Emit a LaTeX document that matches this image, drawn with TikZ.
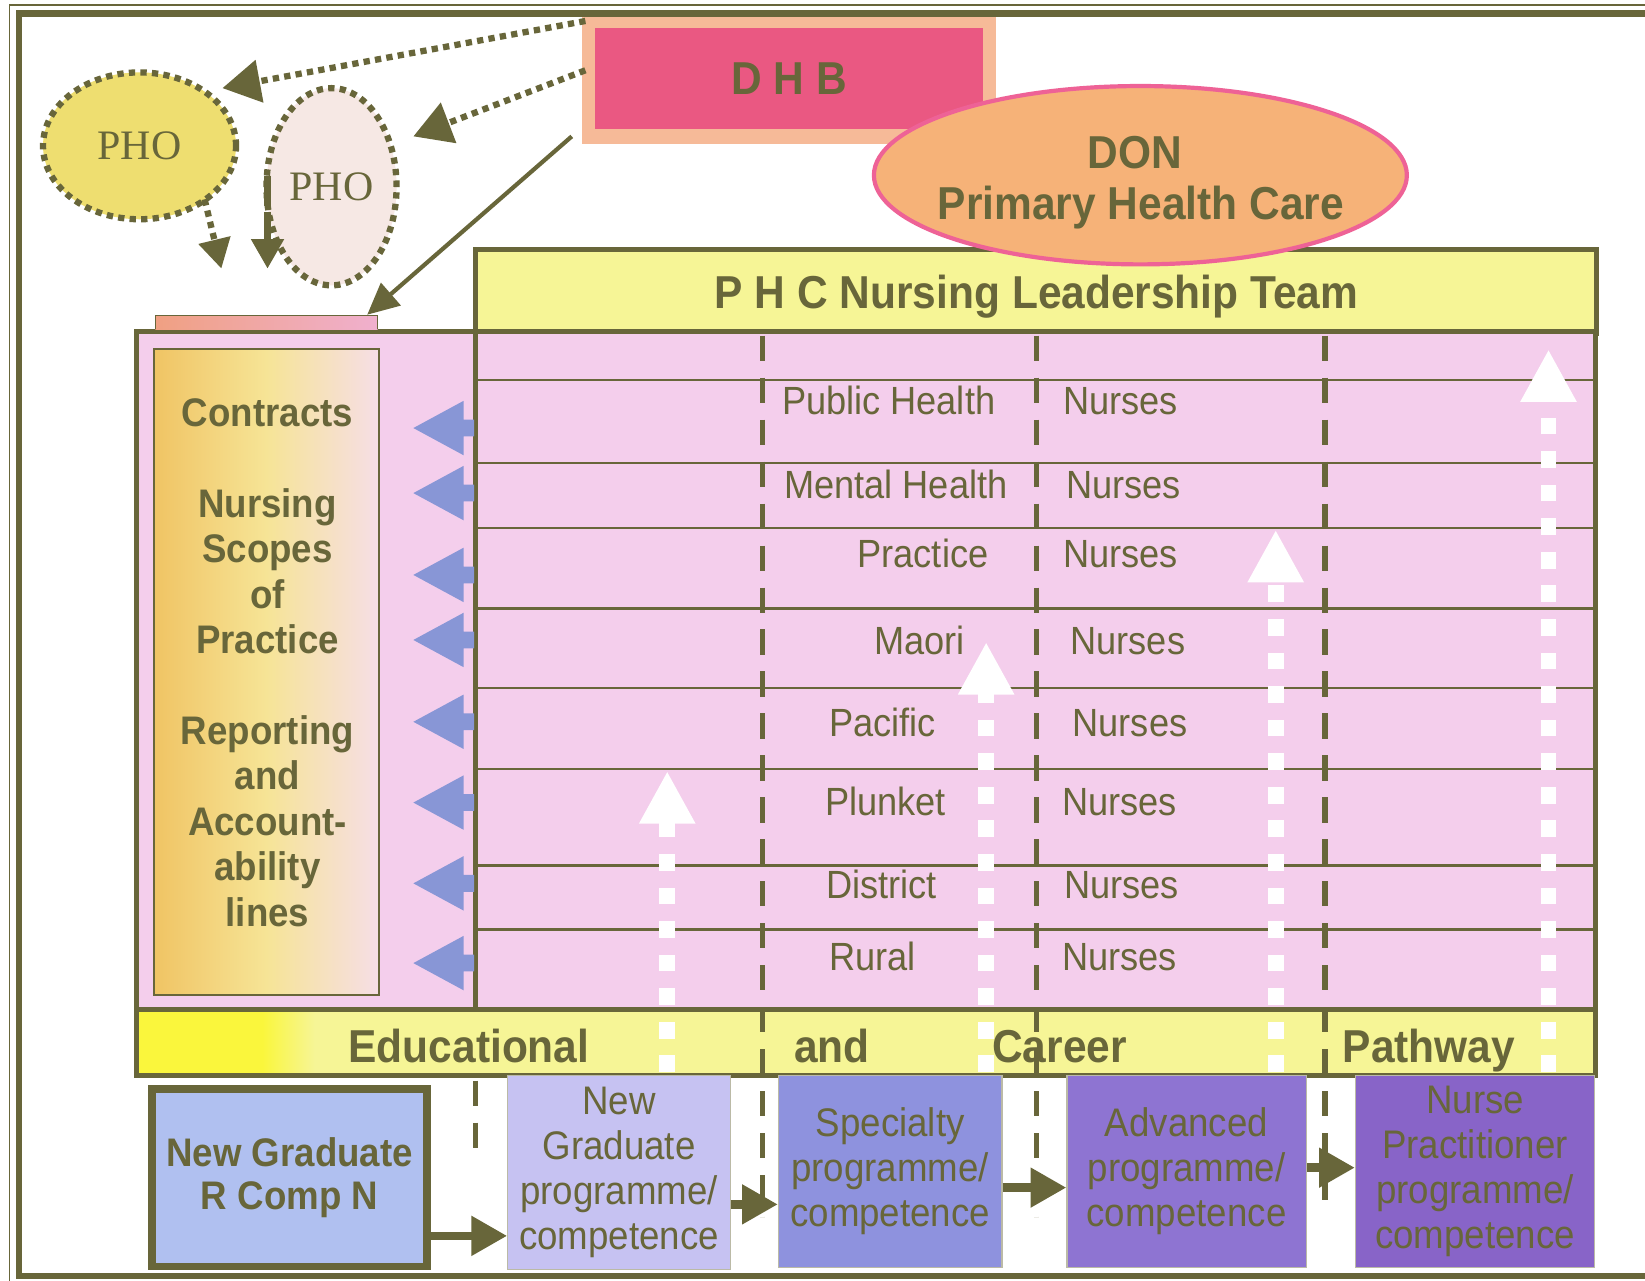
\documentclass[tikz,border=0pt]{standalone}
\usepackage{fontspec}
\setmainfont{Liberation Sans}
\newfontfamily\dgNarrow[FakeStretch=0.92]{Liberation Sans}
\newfontfamily\dgSerif{Liberation Serif}
\usetikzlibrary{arrows.meta,shapes.geometric}

\definecolor{drab}{RGB}{104,102,58}
\definecolor{tablepink}{RGB}{244,206,236}
\definecolor{paleyellow}{RGB}{246,245,150}
\definecolor{brightyellow}{RGB}{250,246,60}
\definecolor{dhbred}{RGB}{234,88,130}
\definecolor{dhbpeach}{RGB}{246,186,152}
\definecolor{donfill}{RGB}{246,178,120}
\definecolor{donedge}{RGB}{238,98,150}
\definecolor{phoyellow}{RGB}{238,222,112}
\definecolor{phopink}{RGB}{246,232,228}
\definecolor{arrowblue}{RGB}{136,150,214}
\definecolor{boxA}{RGB}{176,192,240}
\definecolor{boxB}{RGB}{198,194,242}
\definecolor{boxC}{RGB}{142,146,222}
\definecolor{boxD}{RGB}{142,116,210}
\definecolor{boxE}{RGB}{136,100,200}
\definecolor{salmon}{RGB}{240,160,130}
\definecolor{salmonpink}{RGB}{240,176,206}
\definecolor{labelorange}{RGB}{240,196,100}
\definecolor{labelyellow}{RGB}{246,228,150}
\definecolor{labelpale}{RGB}{246,222,230}

\newcommand\dgHead{\dgNarrow\fontsize{22}{24}\selectfont\bfseries}
\newcommand\dgLabel{\dgNarrow\fontsize{19}{21.65}\selectfont\bfseries}
\newcommand\dgCell{\dgNarrow\fontsize{18.75}{21}\selectfont}
\newcommand\dgProg{\dgNarrow\fontsize{19}{21.5}\selectfont}
\newcommand\dgProgBold{\dgNarrow\fontsize{19}{20.5}\selectfont\bfseries}
\newcommand\dgPho{\dgSerif\fontsize{20}{24}\selectfont}

\tikzset{
  olivedots/.style={draw=drab, line width=3pt, dash pattern=on 3pt off 2.5pt},
  dotarrow/.style={olivedots, -{Triangle[length=18pt,width=20pt]}},
  smalldotarrow/.style={olivedots, -{Triangle[length=14pt,width=15pt]}},
  tablerule/.style={drab, line width=1pt},
  divider/.style={drab, line width=2.5pt, dash pattern=on 12pt off 8pt},
  upflow/.style={white, line width=7.5pt, dash pattern=on 8pt off 8pt, -{Triangle[length=25pt,width=25pt]}},
  boxarrow/.style={drab, line width=4pt, -{Triangle[length=17pt,width=18pt]}},
  cell/.style={inner sep=0, font=\dgCell, text=drab, anchor=base west},
  bandtext/.style={inner sep=0, font=\dgHead, text=drab, anchor=base},
  progbox/.style={draw=drab!45, line width=0.6pt, inner sep=0, align=center, font=\dgProg, text=drab},
}

\begin{document}
\begin{tikzpicture}[x=0.5pt,y=-0.5pt]
\useasboundingbox (0,0) rectangle (1568,1221);
\clip (0,0) rectangle (1568,1221);
\fill[white] (0,0) rectangle (1568,1221);

% outer frame
\draw[drab, line width=3pt] (1600,13) -- (18,13) -- (18,1216) -- (1600,1216);
\draw[drab, line width=0.8pt] (1600,5) -- (9,5) -- (9,1221);

% DHB
\fill[dhbpeach] (555,16) rectangle (949,137);
\node[fill=dhbred, minimum width=185pt, minimum height=48pt, inner sep=0, font=\dgHead, text=drab] (dhb) at (752,75) {D H B};

% PHO ellipses
\node[ellipse, fill=phoyellow, olivedots, minimum width=92pt, minimum height=70pt, inner sep=0, font=\dgPho, text=drab] (pho1) at (133,139) {PHO};
\node[ellipse, fill=phopink, olivedots, minimum width=62pt, minimum height=94pt, inner sep=0, font=\dgPho, text=drab] (pho2) at (316,178) {PHO};

% links from DHB to the PHOs
\coordinate (dhbTop) at (558,20);
\coordinate (dhbMid) at (558,67);
\coordinate (dhbLow) at (545,130);
\coordinate (pho1in) at (212,84);
\coordinate (pho2in) at (394,130);
\draw[dotarrow] (dhbTop) -- (pho1in);
\draw[dotarrow] (dhbMid) -- (pho2in);

% flows down out of the PHOs
\coordinate (pho1out) at (195,190);
\coordinate (pho1end) at (211,256);
\coordinate (pho2out) at (255,168);
\coordinate (pho2end) at (255,256);
\draw[smalldotarrow] (pho1out) -- (pho1end);
\draw[drab, line width=3pt, dash pattern=on 14pt off 3pt, -{Triangle[length=14pt,width=15pt]}] (pho2out) -- (pho2end);

% PHC leadership team header
\node[draw=drab, line width=2.5pt, fill=paleyellow, minimum width=534.5pt, minimum height=40pt, inner sep=0] (phc) at (987.5,278) {};
\node[bandtext] (phctext) at (988,293.8) {P H C Nursing Leadership Team};

% DON ellipse
\node[ellipse, draw=donedge, line width=2pt, fill=donfill, minimum width=254pt, minimum height=85pt, inner sep=0] (don) at (1087,167) {};
\node[bandtext] (dontop) at (1082,160.8) {DON};
\node[bandtext] (donbottom) at (1087.5,208.8) {Primary Health Care};

% main body of the structure
\draw[drab, line width=2.5pt, fill=tablepink] (130,316) rectangle (1521,962);
\shade[left color=salmon, right color=salmonpink] (148,301) rectangle (360,314);
\draw[drab, line width=0.6pt] (148,314) -- (148,301) -- (360,301) -- (360,314);

% DHB to the contracts column
\coordinate (contractsTop) at (350,300);
\draw[drab, line width=2pt, -{Triangle[length=15pt,width=14pt]}] (dhbLow) -- (contractsTop);

% contracts / scopes / reporting column
\node[draw=drab, line width=1pt, left color=labelorange, right color=labelpale, middle color=labelyellow, minimum width=107pt, minimum height=307.5pt, inner sep=0] (scope) at (254,640.5) {};
\node[anchor=north, inner sep=0, align=center, font=\dgLabel, text=drab] (scopetext) at (255,379.5)
  {Contracts\\[21.65pt]Nursing\\Scopes\\of\\Practice\\[21.65pt]Reporting\\and\\Account-\\ability\\lines};

% table rules
\foreach \y in {362,441,503,580,656,733,825,886}
  \draw[tablerule] (453,\y) -- (1521,\y);
\draw[drab, line width=2.5pt] (453,316) -- (453,962);

% blue reporting arrows
\foreach \y in {408,470,548,610,688,765,842,918}
  \fill[arrowblue] (394,\y) -- (442,\y-26) -- (442,\y-8) -- (452,\y-8) -- (452,\y+8) -- (442,\y+8) -- (442,\y+26) -- cycle;

% nursing groups
\foreach \lx/\nx/\by/\txt [count=\i] in {
  745/1013/395.4/Public Health,
  747/1016/475.4/Mental Health,
  817/1013/541.4/Practice,
  833/1020/623.4/Maori,
  790/1022/702.4/Pacific,
  786/1012/777.4/Plunket,
  787/1014/856.4/District,
  790/1012/925.4/Rural}
{
  \node[cell] (group\i) at (\lx,\by) {\txt};
  \node[cell] (nurses\i) at (\nx,\by) {Nurses};
}

% pathway band
\fill[paleyellow] (130,962) rectangle (1521,1025);
\fill[brightyellow] (132,964) rectangle (250,1023);
\shade[left color=brightyellow, right color=paleyellow] (250,964) rectangle (300,1023);
\draw[drab, line width=2.5pt] (130,962) rectangle (1521,1025);
\node[bandtext] (edu) at (447,1012.8) {Educational};
\node[bandtext] (andword) at (793,1012.8) {and};
\node[bandtext] (career) at (1010,1012.8) {Career};
\node[bandtext] (pathway) at (1362,1012.8) {Pathway};

% stage dividers
\draw[divider] (727,320) -- (727,1160);
\draw[divider] (988,320) -- (988,1160);
\draw[divider] (1263,320) -- (1263,1146);
\draw[divider] (453,1030) -- (453,1106);

% career progression arrows
\coordinate (up1s) at (636,1022);  \coordinate (up1e) at (636,735);
\coordinate (up2s) at (940,1022);  \coordinate (up2e) at (940,612);
\coordinate (up3s) at (1216,1022); \coordinate (up3e) at (1216,505);
\coordinate (up4s) at (1476,1022); \coordinate (up4e) at (1476,333);
\draw[upflow] (up1s) -- (up1e);
\draw[upflow] (up2s) -- (up2e);
\draw[upflow] (up3s) -- (up3e);
\draw[upflow] (up4s) -- (up4e);

% programme boxes
\node[draw=drab, line width=3.5pt, fill=boxA, minimum width=131pt, minimum height=84.5pt, inner sep=0, align=center, font=\dgProgBold, text=drab] (b1) at (276,1122.5) {New Graduate\\R Comp N};
\node[progbox, fill=boxB, minimum width=106pt, minimum height=92.5pt] (b2) at (590,1117.5) {New\\Graduate\\programme/\\competence};
\node[progbox, fill=boxC, minimum width=106.5pt, minimum height=91.5pt] (b3) at (848.5,1116.5) {Specialty\\programme/\\competence};
\node[progbox, fill=boxD, minimum width=114pt, minimum height=91.5pt] (b4) at (1131,1116.5) {Advanced\\programme/\\competence};
\node[progbox, fill=boxE, minimum width=114pt, minimum height=91.5pt] (b5) at (1406,1116.5) {Nurse\\Practitioner\\programme/\\competence};

\coordinate (lvl1) at (0,1178);
\coordinate (lvl2) at (0,1148);
\coordinate (lvl3) at (0,1132);
\coordinate (lvl4) at (0,1113);
\draw[boxarrow] (b1.east |- lvl1) -- (b2.west |- lvl1);
\draw[boxarrow] (b2.east |- lvl2) -- (b3.west |- lvl2);
\draw[boxarrow] (b3.east |- lvl3) -- (b4.west |- lvl3);
\draw[boxarrow] (b4.east |- lvl4) -- (b5.west |- lvl4);
\end{tikzpicture}
\end{document}
